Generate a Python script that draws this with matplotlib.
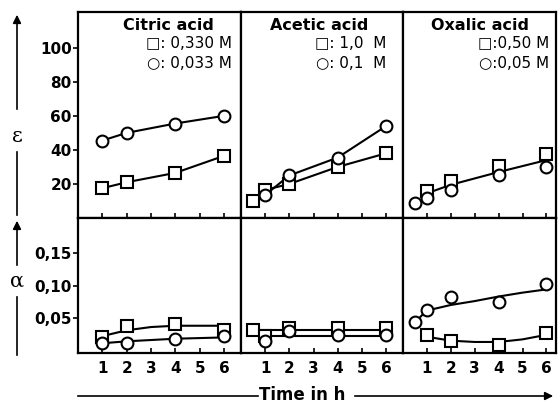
import numpy as np
import matplotlib.pyplot as plt

W, H = 558, 407

# data (epsilon on top, alpha below)
acids = ["Citric acid", "Acetic acid", "Oxalic acid"]
sq_labels = ["\u25a1: 0,330 M", "\u25a1: 1,0  M", "\u25a1:0,50 M"]
ci_labels = ["\u25cb: 0,033 M", "\u25cb: 0,1  M", "\u25cb:0,05 M"]

# citric acid
cit_t = [1, 2, 4, 6]
cit_eps_sq = [17.5, 21, 26.5, 36.5]
cit_eps_ci = [45.5, 50, 55.5, 60]
cit_alpha_sq = [0.020, 0.037, 0.041, 0.031]
cit_alpha_ci = [0.011, 0.012, 0.017, 0.022]
cit_fit_t = [1, 2, 3, 4, 5, 6]
cit_fit_sq = [0.022, 0.031, 0.036, 0.038, 0.038, 0.038]
cit_fit_ci = [0.011, 0.014, 0.016, 0.018, 0.019, 0.020]

# acetic acid
ace_t_sq = [0.5, 1, 2, 4, 6]
ace_t_ci = [1, 2, 4, 6]
ace_eps_sq = [10, 16.5, 20, 30, 38]
ace_eps_ci = [13.5, 25, 35.5, 54]
ace_alpha_sq = [0.032, 0.022, 0.035, 0.034, 0.034]
ace_alpha_ci = [0.014, 0.030, 0.023, 0.023]
ace_fit_sq = [0.032, 0.032, 0.032, 0.032, 0.032]
ace_fit_ci = [0.022, 0.022, 0.022, 0.022]

# oxalic acid
oxa_t_sq = [1, 2, 4, 6]
oxa_t_ci = [0.5, 1, 2, 4, 6]
oxa_eps_sq = [16, 22, 30.5, 37.5]
oxa_eps_ci = [9, 12, 16.5, 25.5, 30]
oxa_eps_fit_t = [1, 2, 4, 6]
oxa_eps_fit = [14.5, 19.5, 27, 34]
oxa_alpha_sq = [0.024, 0.014, 0.009, 0.027]
oxa_alpha_ci = [0.043, 0.062, 0.082, 0.074, 0.102]
oxa_fit_ci_t = [1.3, 2, 3, 4, 5, 6]
oxa_fit_ci = [0.064, 0.070, 0.076, 0.083, 0.089, 0.094]
oxa_fit_sq_t = [1, 2, 3, 4, 5, 6]
oxa_fit_sq = [0.021, 0.015, 0.013, 0.013, 0.017, 0.024]

eps_ticks = [20, 40, 60, 80, 100]
alpha_ticks = [0.05, 0.10, 0.15]
alpha_ticklabels = ["0,05", "0,10", "0,15"]
time_ticks = [1, 2, 3, 4, 5, 6]

fig = plt.figure(figsize=(W / 100, H / 100), dpi=100)

cols = [78, 241, 403, 556]
rows = [12, 218, 353]
xlims = [(0, 6.7), (0, 6.7), (0, 6.4)]


def px_axes(x0, x1, y0, y1):
    return fig.add_axes([x0 / W, 1 - y1 / H, (x1 - x0) / W, (y1 - y0) / H])


mk = dict(markerfacecolor="white", markeredgecolor="black", markeredgewidth=1.5,
          markersize=8.5, linestyle="none", zorder=3)
ln = dict(color="black", lw=1.5, zorder=2)

axes = []
for r in range(2):
    row = []
    for c in range(3):
        ax = px_axes(cols[c], cols[c + 1], rows[r], rows[r + 1])
        for s in ax.spines.values():
            s.set_linewidth(1.6)
        ax.set_xlim(*xlims[c])
        ax.set_xticks(time_ticks)
        ax.tick_params(axis="x", direction="in", length=3.5, width=1.2,
                       labelbottom=(r == 1), pad=6, labelsize=11)
        if c == 0:
            ax.tick_params(axis="y", direction="out", length=3.5, width=1.2,
                           pad=1, labelsize=11)
        else:
            ax.tick_params(axis="y", left=False, labelleft=False)
        for lab in ax.get_xticklabels() + ax.get_yticklabels():
            lab.set_fontweight("bold")
        row.append(ax)
    axes.append(row)

for ax in axes[0]:
    ax.set_ylim(0, 121)
for ax in axes[1]:
    ax.set_ylim(-0.004, 0.204)

axes[0][0].set_yticks(eps_ticks)
axes[0][0].set_yticklabels([str(v) for v in eps_ticks], fontweight="bold")
axes[1][0].set_yticks(alpha_ticks)
axes[1][0].set_yticklabels(alpha_ticklabels, fontweight="bold")

# citric
ax = axes[0][0]
ax.plot(cit_t, cit_eps_sq, **ln)
ax.plot(cit_t, cit_eps_ci, **ln)
ax.plot(cit_t, cit_eps_sq, marker="s", **mk)
ax.plot(cit_t, cit_eps_ci, marker="o", **mk)
ax = axes[1][0]
ax.plot(cit_fit_t, cit_fit_sq, **ln)
ax.plot(cit_fit_t, cit_fit_ci, **ln)
ax.plot(cit_t, cit_alpha_sq, marker="s", **mk)
ax.plot(cit_t, cit_alpha_ci, marker="o", **mk)

# acetic
ax = axes[0][1]
ax.plot(ace_t_sq, ace_eps_sq, **ln)
ax.plot(ace_t_ci, ace_eps_ci, **ln)
ax.plot(ace_t_sq, ace_eps_sq, marker="s", **mk)
ax.plot(ace_t_ci, ace_eps_ci, marker="o", **mk)
ax = axes[1][1]
ax.plot(ace_t_sq, ace_fit_sq, **ln)
ax.plot(ace_t_ci, ace_fit_ci, **ln)
ax.plot(ace_t_sq, ace_alpha_sq, marker="s", **mk)
ax.plot(ace_t_ci, ace_alpha_ci, marker="o", **mk)

# oxalic
ax = axes[0][2]
ax.plot(oxa_eps_fit_t, oxa_eps_fit, **ln)
ax.plot(oxa_t_sq, oxa_eps_sq, marker="s", **mk)
ax.plot(oxa_t_ci, oxa_eps_ci, marker="o", **mk)
ax = axes[1][2]
ax.plot(oxa_t_ci[:2], oxa_alpha_ci[:2], **ln)
ax.plot(oxa_fit_ci_t, oxa_fit_ci, **ln)
ax.plot(oxa_fit_sq_t, oxa_fit_sq, **ln)
ax.plot(oxa_t_sq, oxa_alpha_sq, marker="s", **mk)
ax.plot(oxa_t_ci, oxa_alpha_ci, marker="o", **mk)

# panel headers
title_x = [168, 319, 480]
leg_right = [232, 386, 549]
for i in range(3):
    fig.text(title_x[i] / W, 1 - 26 / H, acids[i], ha="center", va="center",
             fontsize=11.5, fontweight="bold")
    fig.text(leg_right[i] / W, 1 - 44 / H, sq_labels[i], ha="right", va="center",
             fontsize=11)
    fig.text(leg_right[i] / W, 1 - 64 / H, ci_labels[i], ha="right", va="center",
             fontsize=11)

# side labels with arrows
arr = dict(arrowstyle="-|>", lw=1.2, color="black", mutation_scale=12)
fig.text(17 / W, 1 - 137 / H, "\u03b5", ha="center", va="center", fontsize=15,
         family="DejaVu Serif")
fig.add_artist(plt.Line2D([17 / W, 17 / W], [1 - 152 / H, 1 - 215 / H],
                          color="black", lw=1.2))
plt.annotate("", xy=(17, H - 12), xytext=(17, H - 112), xycoords="figure pixels",
             textcoords="figure pixels", arrowprops=arr)

fig.text(17 / W, 1 - 281 / H, "\u03b1", ha="center", va="center", fontsize=15,
         family="DejaVu Serif")
fig.add_artist(plt.Line2D([17 / W, 17 / W], [1 - 297 / H, 1 - 355 / H],
                          color="black", lw=1.2))
plt.annotate("", xy=(17, H - 218), xytext=(17, H - 268), xycoords="figure pixels",
             textcoords="figure pixels", arrowprops=arr)

# time axis caption
fig.add_artist(plt.Line2D([78 / W, 258 / W], [1 - 396 / H, 1 - 396 / H],
                          color="black", lw=1.2))
fig.text(302 / W, 1 - 395 / H, "Time in h", ha="center", va="center",
         fontsize=12, fontweight="bold")
plt.annotate("", xy=(556, H - 396), xytext=(352, H - 396), xycoords="figure pixels",
             textcoords="figure pixels", arrowprops=arr)

fig.savefig("out.png", dpi=100)
